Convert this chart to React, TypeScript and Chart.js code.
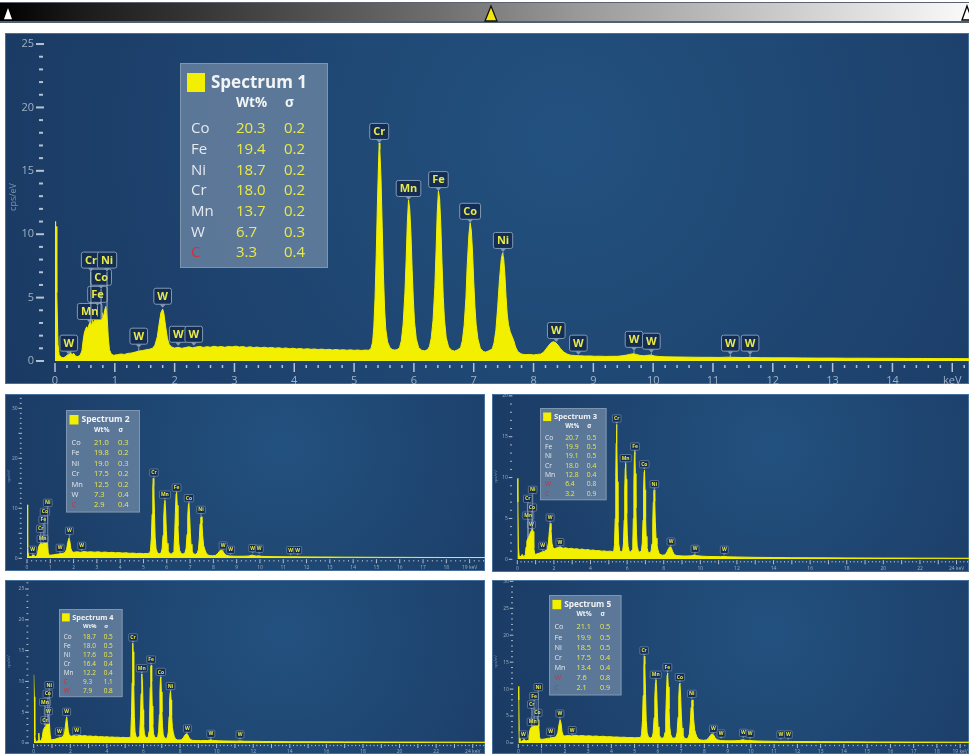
import { useEffect, useRef } from "react";
import { Chart, registerables } from "chart.js";
import type { Plugin } from "chart.js";

Chart.register(...registerables);

type Pt = [number, number];
type Marker = [string, number, number]; // element, energy (keV), pointer height (cps/eV)

// ---------- Spectrum 1 ----------
const spectrum1: Pt[] = [
  [0.0, 11.0], [0.01, 9.2], [0.02, 10.6], [0.03, 5.4], [0.05, 1.3], [0.07, 0.5], [0.1, 0.3], [0.14, 0.25],
  [0.18, 0.35], [0.21, 0.5], [0.24, 0.6], [0.26, 0.72], [0.28, 0.45], [0.31, 0.62], [0.34, 0.4], [0.38, 0.35],
  [0.42, 0.45], [0.45, 0.8], [0.47, 1.6], [0.49, 2.2], [0.51, 2.5], [0.53, 2.7], [0.55, 2.55], [0.57, 2.9],
  [0.59, 3.1], [0.61, 2.75], [0.63, 3.2], [0.65, 2.95], [0.67, 3.35], [0.69, 3.05], [0.71, 3.5], [0.73, 3.25],
  [0.75, 3.6], [0.77, 3.35], [0.79, 3.8], [0.81, 3.45], [0.83, 4.0], [0.85, 4.3], [0.87, 3.6], [0.89, 1.9],
  [0.91, 0.9], [0.94, 0.55], [0.98, 0.45], [1.04, 0.5], [1.1, 0.55], [1.16, 0.52], [1.22, 0.6], [1.28, 0.63],
  [1.34, 0.7], [1.4, 0.78], [1.46, 0.82], [1.52, 0.88], [1.58, 0.93], [1.63, 1.0], [1.67, 1.25], [1.71, 1.9],
  [1.74, 2.9], [1.77, 3.8], [1.8, 4.1], [1.82, 3.75], [1.85, 2.7], [1.88, 1.75], [1.91, 1.3], [1.95, 1.1],
  [2.0, 1.02], [2.06, 1.08], [2.12, 1.0], [2.18, 1.06], [2.24, 1.12], [2.3, 1.04], [2.36, 1.1], [2.42, 1.15],
  [2.48, 1.07], [2.54, 1.13], [2.6, 1.09], [2.66, 1.16], [2.72, 1.1], [2.78, 1.14], [2.84, 1.08], [2.9, 1.15],
  [2.96, 1.11], [3.02, 1.17], [3.08, 1.1], [3.14, 1.14], [3.2, 1.07], [3.26, 1.12], [3.32, 1.06], [3.38, 1.1],
  [3.44, 1.04], [3.5, 1.09], [3.56, 1.03], [3.62, 1.07], [3.68, 1.01], [3.74, 1.05], [3.8, 0.99], [3.86, 1.03],
  [3.92, 0.97], [3.98, 1.01], [4.04, 0.95], [4.1, 0.99], [4.16, 0.93], [4.22, 0.97], [4.28, 0.92], [4.34, 0.95],
  [4.4, 0.9], [4.46, 0.94], [4.52, 0.89], [4.58, 0.92], [4.64, 0.87], [4.7, 0.91], [4.76, 0.86], [4.82, 0.89],
  [4.88, 0.85], [4.94, 0.88], [5.0, 0.84], [5.06, 0.87], [5.12, 0.83], [5.18, 0.86], [5.24, 0.85], [5.28, 0.95],
  [5.31, 1.5], [5.33, 2.7], [5.35, 4.9], [5.37, 8.3], [5.39, 12.4], [5.41, 15.8], [5.42, 17.2], [5.43, 16.7],
  [5.45, 14.4], [5.47, 10.6], [5.49, 6.9], [5.51, 4.1], [5.53, 2.5], [5.56, 1.5], [5.6, 1.05], [5.64, 0.9],
  [5.68, 0.86], [5.72, 0.9], [5.76, 1.05], [5.79, 1.6], [5.82, 2.9], [5.85, 5.4], [5.87, 7.9], [5.89, 10.9],
  [5.91, 12.7], [5.93, 12.0], [5.95, 10.1], [5.97, 7.3], [5.99, 4.9], [6.01, 3.1], [6.04, 1.75], [6.08, 1.05],
  [6.13, 0.85], [6.18, 0.8], [6.23, 0.9], [6.26, 1.15], [6.29, 1.8], [6.32, 3.2], [6.35, 5.8], [6.37, 8.6],
  [6.39, 11.7], [6.41, 13.4], [6.43, 12.8], [6.45, 10.7], [6.47, 7.7], [6.49, 5.1], [6.51, 3.3], [6.54, 1.85],
  [6.58, 1.1], [6.63, 0.85], [6.68, 0.78], [6.73, 0.88], [6.78, 1.05], [6.81, 1.6], [6.84, 2.8], [6.87, 5.0],
  [6.89, 7.4], [6.92, 10.0], [6.94, 10.9], [6.96, 10.3], [6.98, 8.6], [7.0, 6.3], [7.02, 4.3], [7.04, 2.9],
  [7.07, 1.75], [7.11, 1.0], [7.16, 0.75], [7.2, 0.7], [7.25, 0.8], [7.31, 0.95], [7.34, 1.45], [7.37, 2.4],
  [7.4, 4.2], [7.43, 6.4], [7.46, 8.0], [7.48, 8.5], [7.5, 8.1], [7.52, 6.9], [7.54, 5.1], [7.56, 3.7],
  [7.58, 2.9], [7.61, 2.3], [7.64, 1.95], [7.67, 1.6], [7.7, 1.1], [7.74, 0.72], [7.8, 0.55], [7.86, 0.5],
  [7.93, 0.52], [8.0, 0.48], [8.07, 0.52], [8.12, 0.55], [8.17, 0.7], [8.21, 0.95], [8.25, 1.2], [8.29, 1.42],
  [8.33, 1.52], [8.37, 1.45], [8.41, 1.25], [8.45, 0.98], [8.5, 0.72], [8.56, 0.55], [8.62, 0.46], [8.7, 0.43],
  [8.78, 0.41], [8.86, 0.39], [8.94, 0.4], [9.02, 0.37], [9.1, 0.38], [9.2, 0.36], [9.3, 0.37], [9.4, 0.37],
  [9.48, 0.41], [9.56, 0.47], [9.62, 0.54], [9.67, 0.57], [9.72, 0.52], [9.78, 0.44], [9.85, 0.41], [9.91, 0.45],
  [9.96, 0.47], [10.02, 0.4], [10.1, 0.35], [10.2, 0.33], [10.35, 0.32], [10.5, 0.31], [10.65, 0.3], [10.8, 0.29],
  [10.95, 0.29], [11.1, 0.28], [11.25, 0.3], [11.35, 0.29], [11.5, 0.27], [11.65, 0.28], [11.8, 0.26], [12.0, 0.25],
  [12.25, 0.25], [12.5, 0.24], [12.75, 0.23], [13.0, 0.23], [13.25, 0.22], [13.5, 0.22], [13.75, 0.21], [14.0, 0.21],
  [14.25, 0.2], [14.5, 0.2], [14.75, 0.19], [15.0, 0.19], [15.3, 0.18],
];
const markers1: Marker[] = [
  ["W", 0.23, 0.5], ["Mn", 0.58, 3.0], ["Fe", 0.71, 4.35], ["Co", 0.77, 5.7], ["Cr", 0.6, 7.05], ["Ni", 0.87, 7.05],
  ["W", 1.4, 1.05], ["W", 1.8, 4.2], ["W", 2.06, 1.2], ["W", 2.32, 1.2],
  ["Cr", 5.42, 17.2], ["Mn", 5.91, 12.7], ["Fe", 6.41, 13.4], ["Co", 6.94, 10.9], ["Ni", 7.49, 8.6],
  ["W", 8.38, 1.5], ["W", 8.75, 0.5], ["W", 9.68, 0.8], ["W", 9.97, 0.65], ["W", 11.29, 0.5], ["W", 11.62, 0.5],
];
const elements1 = ["Co", "Fe", "Ni", "Cr", "Mn", "W", "C"];
const wt1 = [20.3, 19.4, 18.7, 18.0, 13.7, 6.7, 3.3];
const sigma1 = [0.2, 0.2, 0.2, 0.2, 0.2, 0.3, 0.4];
const flagged1 = ["C"];

// ---------- Spectrum 2 ----------
const spectrum2: Pt[] = [
  [0, 10.7], [0.02, 8.4], [0.04, 2.2], [0.07, 0.5], [0.12, 0.3], [0.18, 0.35], [0.22, 0.55], [0.26, 0.7],
  [0.3, 0.45], [0.36, 0.35], [0.42, 0.5], [0.46, 1.2], [0.5, 2.3], [0.54, 2.7], [0.58, 3.0], [0.62, 2.9],
  [0.66, 3.3], [0.7, 3.4], [0.74, 3.7], [0.78, 3.6], [0.82, 4.0], [0.85, 4.3], [0.88, 3.0], [0.91, 1.2],
  [0.95, 0.6], [1.05, 0.65], [1.15, 0.7], [1.25, 0.8], [1.35, 0.85], [1.45, 0.95], [1.55, 1.0], [1.63, 1.15],
  [1.7, 1.8], [1.75, 3.2], [1.8, 4.0], [1.84, 3.4], [1.88, 2.0], [1.93, 1.35], [2.0, 1.2], [2.15, 1.3],
  [2.3, 1.2], [2.45, 1.35], [2.6, 1.25], [2.75, 1.3], [2.9, 1.22], [3.05, 1.3], [3.2, 1.18], [3.35, 1.25],
  [3.5, 1.15], [3.65, 1.2], [3.8, 1.1], [3.95, 1.14], [4.1, 1.05], [4.25, 1.1], [4.4, 1.0], [4.55, 1.04],
  [4.7, 0.96], [4.85, 1.0], [5.0, 0.93], [5.15, 0.97], [5.26, 1.0], [5.3, 1.6], [5.34, 4.2], [5.37, 8.8],
  [5.4, 14.2], [5.42, 16.0], [5.44, 14.6], [5.47, 9.2], [5.5, 4.2], [5.54, 1.9], [5.6, 1.05], [5.68, 0.9],
  [5.76, 1.1], [5.8, 1.9], [5.84, 4.6], [5.87, 8.2], [5.9, 11.0], [5.92, 11.6], [5.95, 9.6], [5.98, 5.6],
  [6.01, 3.0], [6.05, 1.6], [6.12, 0.95], [6.2, 0.88], [6.27, 1.15], [6.31, 2.0], [6.34, 4.8], [6.37, 9.2],
  [6.4, 12.9], [6.42, 13.3], [6.45, 10.6], [6.48, 6.4], [6.51, 3.2], [6.55, 1.6], [6.62, 0.95], [6.7, 0.85],
  [6.78, 1.05], [6.83, 2.0], [6.87, 4.8], [6.9, 8.4], [6.93, 10.8], [6.95, 11.0], [6.98, 8.6], [7.01, 5.2],
  [7.04, 2.8], [7.08, 1.5], [7.15, 0.85], [7.23, 0.8], [7.31, 1.0], [7.36, 1.8], [7.4, 4.2], [7.43, 6.9],
  [7.46, 8.1], [7.48, 8.3], [7.51, 7.0], [7.54, 4.6], [7.58, 2.6], [7.63, 1.8], [7.68, 1.2], [7.75, 0.7],
  [7.85, 0.55], [7.95, 0.5], [8.08, 0.55], [8.18, 0.9], [8.25, 1.35], [8.32, 1.7], [8.39, 1.55], [8.46, 1.0],
  [8.55, 0.6], [8.7, 0.45], [8.9, 0.42], [9.1, 0.4], [9.3, 0.42], [9.5, 0.44], [9.6, 0.55], [9.67, 0.65],
  [9.74, 0.52], [9.85, 0.45], [9.95, 0.5], [10.05, 0.4], [10.3, 0.36], [10.6, 0.33], [10.9, 0.32], [11.2, 0.3],
  [11.5, 0.31], [11.8, 0.28], [12.2, 0.27], [12.6, 0.26], [13.0, 0.25], [13.5, 0.23], [14.0, 0.22], [14.5, 0.21],
  [15.0, 0.2], [15.5, 0.19], [16.0, 0.19], [16.5, 0.18], [17.0, 0.17], [17.5, 0.17], [18.0, 0.16], [18.5, 0.16],
  [19.0, 0.15], [19.7, 0.15],
];
const markers2: Marker[] = [
  ["W", 0.24, 0.66], ["Mn", 0.67, 2.86], ["Cr", 0.59, 4.86], ["Fe", 0.7, 6.66], ["Co", 0.77, 8.26], ["Ni", 0.89, 10.06],
  ["W", 1.42, 1.06], ["W", 1.82, 4.46], ["W", 2.35, 1.46],
  ["Cr", 5.45, 16.1], ["Mn", 5.92, 11.7], ["Fe", 6.42, 13.1], ["Co", 6.95, 11.0], ["Ni", 7.47, 8.66],
  ["W", 8.42, 1.52], ["W", 8.74, 0.66], ["W", 9.69, 1.0], ["W", 9.97, 0.86], ["W", 11.32, 0.6], ["W", 11.62, 0.6],
];
const elements2 = ["Co", "Fe", "Ni", "Cr", "Mn", "W", "C"];
const wt2 = [21.0, 19.8, 19.0, 17.5, 12.5, 7.3, 2.9];
const sigma2 = [0.3, 0.2, 0.3, 0.2, 0.2, 0.4, 0.4];
const flagged2 = ["C"];

// ---------- Spectrum 3 ----------
const spectrum3: Pt[] = [
  [0, 9.9], [0.03, 7.0], [0.06, 1.5], [0.1, 0.4], [0.16, 0.3], [0.22, 0.45], [0.27, 0.6], [0.32, 0.4],
  [0.38, 0.35], [0.44, 0.6], [0.48, 1.5], [0.52, 2.2], [0.57, 2.5], [0.62, 2.8], [0.67, 3.0], [0.72, 3.3],
  [0.77, 3.5], [0.82, 3.8], [0.86, 3.4], [0.9, 1.4], [0.95, 0.6], [1.05, 0.65], [1.2, 0.75], [1.35, 0.9],
  [1.5, 1.0], [1.62, 1.2], [1.7, 2.0], [1.75, 3.4], [1.8, 4.4], [1.84, 3.6], [1.89, 2.0], [1.95, 1.4],
  [2.05, 1.3], [2.2, 1.45], [2.35, 1.5], [2.5, 1.35], [2.65, 1.4], [2.8, 1.3], [2.95, 1.35], [3.1, 1.25],
  [3.25, 1.3], [3.4, 1.2], [3.55, 1.25], [3.7, 1.15], [3.85, 1.2], [4.0, 1.1], [4.15, 1.14], [4.3, 1.05],
  [4.45, 1.08], [4.6, 1.0], [4.75, 1.03], [4.9, 0.96], [5.05, 1.0], [5.2, 0.95], [5.27, 1.0], [5.31, 1.8],
  [5.35, 5.0], [5.38, 10.0], [5.4, 14.2], [5.42, 16.5], [5.44, 15.0], [5.47, 9.5], [5.5, 4.5], [5.54, 1.9],
  [5.6, 1.05], [5.68, 0.9], [5.76, 1.1], [5.8, 1.9], [5.84, 4.8], [5.87, 8.5], [5.9, 11.2], [5.92, 11.75],
  [5.95, 9.8], [5.98, 5.6], [6.01, 3.0], [6.05, 1.6], [6.12, 0.95], [6.2, 0.9], [6.27, 1.15], [6.31, 2.0],
  [6.34, 5.0], [6.37, 9.4], [6.4, 12.8], [6.42, 13.2], [6.45, 10.5], [6.48, 6.3], [6.51, 3.2], [6.55, 1.6],
  [6.62, 0.95], [6.7, 0.88], [6.78, 1.05], [6.83, 2.0], [6.87, 4.8], [6.9, 8.5], [6.93, 10.7], [6.95, 10.9],
  [6.98, 8.5], [7.01, 5.1], [7.04, 2.8], [7.08, 1.5], [7.15, 0.85], [7.23, 0.8], [7.31, 1.0], [7.36, 1.9],
  [7.4, 4.4], [7.43, 7.0], [7.46, 8.3], [7.48, 8.5], [7.51, 7.1], [7.54, 4.6], [7.58, 2.6], [7.63, 1.8],
  [7.68, 1.2], [7.75, 0.7], [7.85, 0.55], [7.95, 0.5], [8.08, 0.55], [8.18, 0.9], [8.26, 1.3], [8.34, 1.55],
  [8.41, 1.45], [8.48, 1.0], [8.57, 0.6], [8.7, 0.45], [8.9, 0.42], [9.1, 0.4], [9.3, 0.41], [9.5, 0.42],
  [9.62, 0.5], [9.7, 0.55], [9.78, 0.45], [9.9, 0.42], [10.1, 0.38], [10.4, 0.35], [10.8, 0.33], [11.1, 0.32],
  [11.3, 0.36], [11.5, 0.3], [12.0, 0.28], [12.5, 0.26], [13.0, 0.24], [14.0, 0.22], [15.0, 0.2], [16.0, 0.19],
  [17.0, 0.18], [18.0, 0.17], [19.0, 0.16], [20.0, 0.15], [21.0, 0.15], [22.0, 0.14], [23.0, 0.14], [24.0, 0.13],
  [24.7, 0.13],
];
const markers3: Marker[] = [
  ["W", 0.77, 3.59], ["Mn", 0.6, 4.72], ["Co", 0.8, 5.7], ["Cr", 0.57, 6.77], ["Ni", 0.84, 7.87],
  ["W", 1.39, 1.02], ["W", 1.79, 4.48], ["W", 2.33, 1.47],
  ["Cr", 5.43, 16.6], ["Mn", 5.92, 11.75], ["Fe", 6.43, 13.17], ["Co", 6.94, 11.0], ["Ni", 7.49, 8.57],
  ["W", 8.4, 1.54], ["W", 9.71, 0.65], ["W", 11.31, 0.53],
];
const elements3 = ["Co", "Fe", "Ni", "Cr", "Mn", "W", "C"];
const wt3 = [20.7, 19.9, 19.1, 18.0, 12.8, 6.4, 3.2];
const sigma3 = [0.5, 0.5, 0.5, 0.4, 0.4, 0.8, 0.9];
const flagged3 = ["W", "C"];

// ---------- Spectrum 4 ----------
const spectrum4: Pt[] = [
  [0, 11.1], [0.03, 7.5], [0.06, 1.2], [0.1, 0.3], [0.16, 0.25], [0.22, 0.3], [0.26, 0.5], [0.28, 1.6],
  [0.3, 0.6], [0.35, 0.35], [0.42, 0.4], [0.47, 1.0], [0.52, 2.0], [0.57, 2.4], [0.62, 2.6], [0.67, 2.9],
  [0.72, 3.1], [0.77, 3.3], [0.82, 3.5], [0.86, 3.2], [0.9, 1.3], [0.95, 0.5], [1.05, 0.55], [1.2, 0.65],
  [1.35, 0.8], [1.5, 0.9], [1.62, 1.1], [1.7, 1.9], [1.75, 3.2], [1.8, 4.2], [1.84, 3.4], [1.89, 1.9],
  [1.95, 1.25], [2.05, 1.1], [2.2, 1.2], [2.35, 1.1], [2.5, 1.25], [2.65, 1.15], [2.8, 1.2], [2.95, 1.1],
  [3.1, 1.15], [3.25, 1.05], [3.4, 1.12], [3.55, 1.0], [3.7, 1.05], [3.85, 0.98], [4.0, 1.02], [4.15, 0.95],
  [4.3, 0.98], [4.45, 0.92], [4.6, 0.95], [4.75, 0.88], [4.9, 0.92], [5.05, 0.86], [5.2, 0.9], [5.27, 0.95],
  [5.31, 1.7], [5.35, 4.8], [5.38, 9.8], [5.4, 14.0], [5.42, 16.2], [5.44, 14.8], [5.47, 9.3], [5.5, 4.3],
  [5.54, 1.8], [5.6, 1.0], [5.68, 0.85], [5.76, 1.05], [5.8, 1.8], [5.84, 4.5], [5.87, 8.0], [5.9, 10.7],
  [5.92, 11.2], [5.95, 9.3], [5.98, 5.4], [6.01, 2.9], [6.05, 1.5], [6.12, 0.9], [6.2, 0.85], [6.27, 1.1],
  [6.31, 1.9], [6.34, 4.7], [6.37, 9.0], [6.4, 12.2], [6.42, 12.6], [6.45, 10.0], [6.48, 6.0], [6.51, 3.0],
  [6.55, 1.5], [6.62, 0.9], [6.7, 0.85], [6.78, 1.0], [6.83, 1.9], [6.87, 4.6], [6.9, 8.3], [6.93, 10.5],
  [6.95, 10.7], [6.98, 8.3], [7.01, 5.0], [7.04, 2.7], [7.08, 1.4], [7.15, 0.8], [7.23, 0.75], [7.31, 0.95],
  [7.36, 1.8], [7.4, 4.3], [7.43, 6.9], [7.46, 8.2], [7.48, 8.4], [7.51, 7.0], [7.54, 4.5], [7.58, 2.5],
  [7.63, 1.7], [7.68, 1.1], [7.75, 0.65], [7.85, 0.5], [7.95, 0.48], [8.08, 0.52], [8.18, 0.85], [8.26, 1.25],
  [8.34, 1.5], [8.41, 1.4], [8.48, 0.95], [8.57, 0.55], [8.7, 0.42], [8.9, 0.4], [9.1, 0.38], [9.3, 0.4],
  [9.5, 0.4], [9.62, 0.48], [9.7, 0.52], [9.78, 0.42], [9.9, 0.4], [10.1, 0.36], [10.4, 0.33], [10.8, 0.31],
  [11.1, 0.3], [11.3, 0.34], [11.5, 0.28], [12.0, 0.27], [12.5, 0.25], [13.0, 0.23], [14.0, 0.21], [15.0, 0.2],
  [16.0, 0.19], [17.0, 0.18], [18.0, 0.17], [19.0, 0.16], [20.0, 0.15], [21.0, 0.15], [22.0, 0.14], [23.0, 0.14],
  [24.0, 0.13], [24.7, 0.13],
];
const markers4: Marker[] = [
  ["Cr", 0.62, 2.87], ["W", 0.8, 4.33], ["Mn", 0.62, 5.8], ["Co", 0.77, 7.14], ["Ni", 0.85, 8.55],
  ["W", 1.4, 1.02], ["W", 1.8, 4.22], ["W", 2.35, 1.14],
  ["Cr", 5.43, 16.3], ["Mn", 5.91, 11.3], ["Fe", 6.42, 12.7], ["Co", 6.95, 10.7], ["Ni", 7.48, 8.4],
  ["W", 8.4, 1.5], ["W", 9.68, 0.65], ["W", 11.28, 0.54],
];
const elements4 = ["Co", "Fe", "Ni", "Cr", "Mn", "C", "W"];
const wt4 = [18.7, 18.0, 17.6, 16.4, 12.2, 9.3, 7.9];
const sigma4 = [0.5, 0.5, 0.5, 0.4, 0.4, 1.1, 0.8];
const flagged4 = ["C", "W"];

// ---------- Spectrum 5 ----------
const spectrum5: Pt[] = [
  [0, 10.5], [0.02, 8.0], [0.04, 2.0], [0.07, 0.45], [0.12, 0.3], [0.18, 0.4], [0.22, 0.6], [0.26, 0.65],
  [0.3, 0.45], [0.36, 0.4], [0.42, 0.5], [0.46, 1.3], [0.5, 2.4], [0.54, 2.8], [0.58, 3.0], [0.62, 3.2],
  [0.66, 3.3], [0.7, 3.6], [0.74, 3.7], [0.78, 3.9], [0.82, 4.1], [0.85, 4.3], [0.88, 3.1], [0.91, 1.2],
  [0.95, 0.65], [1.05, 0.7], [1.15, 0.75], [1.25, 0.85], [1.35, 0.9], [1.45, 1.0], [1.55, 1.05], [1.63, 1.2],
  [1.7, 1.9], [1.75, 3.4], [1.8, 4.3], [1.84, 3.6], [1.88, 2.1], [1.93, 1.4], [2.0, 1.3], [2.15, 1.4],
  [2.3, 1.3], [2.45, 1.42], [2.6, 1.32], [2.75, 1.38], [2.9, 1.28], [3.05, 1.34], [3.2, 1.24], [3.35, 1.3],
  [3.5, 1.2], [3.65, 1.25], [3.8, 1.15], [3.95, 1.18], [4.1, 1.1], [4.25, 1.12], [4.4, 1.05], [4.55, 1.08],
  [4.7, 1.0], [4.85, 1.03], [5.0, 0.96], [5.15, 1.0], [5.26, 1.02], [5.3, 1.6], [5.34, 4.2], [5.37, 8.8],
  [5.4, 14.2], [5.42, 16.1], [5.44, 14.6], [5.47, 9.2], [5.5, 4.2], [5.54, 1.9], [5.6, 1.05], [5.68, 0.92],
  [5.76, 1.1], [5.8, 1.9], [5.84, 4.7], [5.87, 8.4], [5.9, 11.2], [5.92, 11.75], [5.95, 9.7], [5.98, 5.6],
  [6.01, 3.0], [6.05, 1.6], [6.12, 0.95], [6.2, 0.9], [6.27, 1.15], [6.31, 2.0], [6.34, 4.8], [6.37, 9.1],
  [6.4, 12.6], [6.42, 13.0], [6.45, 10.4], [6.48, 6.3], [6.51, 3.1], [6.55, 1.6], [6.62, 0.95], [6.7, 0.88],
  [6.78, 1.05], [6.83, 2.0], [6.87, 4.8], [6.9, 8.5], [6.93, 10.9], [6.95, 11.1], [6.98, 8.7], [7.01, 5.2],
  [7.04, 2.8], [7.08, 1.5], [7.15, 0.85], [7.23, 0.8], [7.31, 1.0], [7.36, 1.8], [7.4, 4.1], [7.43, 6.6],
  [7.46, 7.8], [7.48, 8.0], [7.51, 6.8], [7.54, 4.4], [7.58, 2.5], [7.63, 1.7], [7.68, 1.15], [7.75, 0.7],
  [7.85, 0.55], [7.95, 0.5], [8.08, 0.55], [8.18, 0.9], [8.25, 1.35], [8.32, 1.7], [8.39, 1.55], [8.46, 1.0],
  [8.55, 0.6], [8.7, 0.45], [8.9, 0.42], [9.1, 0.4], [9.3, 0.42], [9.5, 0.45], [9.6, 0.55], [9.67, 0.62],
  [9.74, 0.52], [9.85, 0.45], [9.95, 0.5], [10.05, 0.42], [10.3, 0.37], [10.6, 0.34], [10.9, 0.32], [11.2, 0.3],
  [11.5, 0.31], [11.8, 0.28], [12.2, 0.27], [12.6, 0.26], [13.0, 0.25], [13.5, 0.23], [14.0, 0.22], [14.5, 0.21],
  [15.0, 0.2], [15.5, 0.19], [16.0, 0.19], [16.5, 0.18], [17.0, 0.17], [17.5, 0.17], [18.0, 0.16], [18.5, 0.16],
  [19.0, 0.15], [19.4, 0.15],
];
const markers5: Marker[] = [
  ["W", 0.22, 0.61], ["Mn", 0.62, 2.97], ["Co", 0.82, 4.64], ["Cr", 0.58, 6.18], ["Fe", 0.68, 7.74], ["Ni", 0.86, 9.4],
  ["W", 1.39, 1.11], ["W", 1.79, 4.5], ["W", 2.32, 1.43],
  ["Cr", 5.41, 16.2], ["Mn", 5.91, 11.7], ["Fe", 6.41, 13.1], ["Co", 6.95, 11.26], ["Ni", 7.46, 8.16],
  ["W", 8.39, 1.67], ["W", 8.72, 0.8], ["W", 9.68, 0.93], ["W", 9.97, 0.74], ["W", 11.29, 0.61], ["W", 11.61, 0.61],
];
const elements5 = ["Co", "Fe", "Ni", "Cr", "Mn", "W", "C"];
const wt5 = [21.1, 19.9, 18.5, 17.5, 13.4, 7.6, 2.1];
const sigma5 = [0.5, 0.5, 0.5, 0.4, 0.4, 0.8, 0.9];
const flagged5 = ["W", "C"];

// ---------- drawing ----------
const FONT = "'Open Sans', 'Noto Sans', sans-serif";
const YELLOW = "#f3ef00";
const VALUE_YELLOW = "#e9e94a";
const TICK_COLOR = "#b4c2d2";
const LABEL_COLOR = "#9fb1c5";

interface Panel {
  title: string;
  spectrum: Pt[];
  markers: Marker[];
  elements: string[];
  wt: number[];
  sigma: number[];
  flagged: string[];
  xMax: number;
  yMax: number;
  xLabelStep: number;
  yLabelStep: number;
  lastLabel: string;
  left: number;
  top: number;
  width: number;
  height: number;
  plotLeft: number;
  plotBottom: number;
  s: number;
  boxAt: [number, number];
  boxScale: number;
}

const panels: Panel[] = [
  {
    title: "Spectrum 1", spectrum: spectrum1, markers: markers1, elements: elements1, wt: wt1, sigma: sigma1, flagged: flagged1,
    xMax: 15.28, yMax: 25.87, xLabelStep: 1, yLabelStep: 5, lastLabel: "keV",
    left: 5, top: 33, width: 964, height: 351, plotLeft: 50, plotBottom: 328, s: 1, boxAt: [175, 30], boxScale: 1,
  },
  {
    title: "Spectrum 2", spectrum: spectrum2, markers: markers2, elements: elements2, wt: wt2, sigma: sigma2, flagged: flagged2,
    xMax: 19.66, yMax: 32.86, xLabelStep: 1, yLabelStep: 10, lastLabel: "19 keV",
    left: 5, top: 394, width: 480, height: 177, plotLeft: 22, plotBottom: 164.3, s: 0.45, boxAt: [61, 16], boxScale: 0.5,
  },
  {
    title: "Spectrum 3", spectrum: spectrum3, markers: markers3, elements: elements3, wt: wt3, sigma: sigma3, flagged: flagged3,
    xMax: 24.68, yMax: 20.23, xLabelStep: 2, yLabelStep: 5, lastLabel: "24 keV",
    left: 492, top: 394, width: 477, height: 178, plotLeft: 25.3, plotBottom: 165.3, s: 0.45, boxAt: [48, 14], boxScale: 0.45,
  },
  {
    title: "Spectrum 4", spectrum: spectrum4, markers: markers4, elements: elements4, wt: wt4, sigma: sigma4, flagged: flagged4,
    xMax: 24.67, yMax: 26.46, xLabelStep: 2, yLabelStep: 5, lastLabel: "24 keV",
    left: 5, top: 580, width: 480, height: 174, plotLeft: 28.7, plotBottom: 163, s: 0.45, boxAt: [54, 29], boxScale: 0.43,
  },
  {
    title: "Spectrum 5", spectrum: spectrum5, markers: markers5, elements: elements5, wt: wt5, sigma: sigma5, flagged: flagged5,
    xMax: 19.38, yMax: 30.24, xLabelStep: 1, yLabelStep: 5, lastLabel: "19 keV",
    left: 492, top: 580, width: 477, height: 174, plotLeft: 26.3, plotBottom: 163, s: 0.45, boxAt: [57, 15], boxScale: 0.49,
  },
];

function valueAt(spec: Pt[], e: number): number {
  for (let i = 1; i < spec.length; i++) {
    const [x0, y0] = spec[i - 1];
    const [x1, y1] = spec[i];
    if (e >= x0 && e <= x1) return y0 + ((y1 - y0) * (e - x0)) / (x1 - x0 || 1);
  }
  return 0;
}

// Navy backdrop with a soft lighter centre, like the acquisition software.
const backdrop: Plugin = {
  id: "backdrop",
  beforeDraw(chart) {
    const { ctx, width, height } = chart;
    ctx.save();
    const cx = width * 0.58;
    const cy = height * 0.3;
    const g = ctx.createRadialGradient(cx, cy, 0, cx, cy, Math.max(width, height) * 0.62);
    g.addColorStop(0, "#23517f");
    g.addColorStop(1, "#1a3a63");
    ctx.fillStyle = g;
    ctx.fillRect(0, 0, width, height);
    ctx.strokeStyle = "#45709b";
    ctx.lineWidth = 1;
    ctx.strokeRect(0.5, 0.5, width - 1, height - 1);
    ctx.restore();
  },
};

function tickMarks(s: number): Plugin {
  return {
    id: "tickMarks",
    afterDraw(chart) {
      const { ctx, chartArea } = chart;
      const x = chart.scales.x;
      const y = chart.scales.y;
      const w = Math.max(1, 1.5 * s);
      ctx.save();
      ctx.fillStyle = TICK_COLOR;
      for (let i = 0; i * 0.2 <= x.max + 1e-9; i++) {
        const px = x.getPixelForValue(i * 0.2);
        const major = i % 5 === 0;
        if (major) ctx.fillRect(px - w / 2, chartArea.bottom + 2 * s, w, 9 * s);
        else ctx.fillRect(px - w / 2, chartArea.bottom + 4 * s, w, Math.max(1.2, 3 * s));
      }
      const h = Math.max(1, 2 * s);
      for (let v = 0; v <= y.max + 1e-9; v += 1) {
        const py = y.getPixelForValue(v);
        const major = v % 5 === 0;
        if (major) ctx.fillRect(chartArea.left - 19 * s, py - h / 2, 8 * s, h);
        else ctx.fillRect(chartArea.left - 16 * s, py - h / 2, Math.max(1.2, 4 * s), h);
      }
      ctx.restore();
    },
  };
}

function elementMarkers(p: Panel): Plugin {
  return {
    id: "elementMarkers",
    afterDatasetsDraw(chart) {
      const { ctx } = chart;
      const x = chart.scales.x;
      const y = chart.scales.y;
      const s = p.s;
      const h = 16 * s;
      const ptr = 3.5 * s;
      ctx.save();
      ctx.font = `bold ${11 * s}px ${FONT}`;
      ctx.textAlign = "center";
      ctx.textBaseline = "middle";
      for (const [sym, e, tip] of p.markers) {
        const px = x.getPixelForValue(e);
        const ty = y.getPixelForValue(tip);
        const level = y.getPixelForValue(valueAt(p.spectrum, e));
        if (level - ty > 2) {
          ctx.strokeStyle = "rgba(170,188,208,0.85)";
          ctx.lineWidth = Math.max(0.7, s);
          ctx.beginPath();
          ctx.moveTo(px, ty);
          ctx.lineTo(px, level);
          ctx.stroke();
        }
        const w = ctx.measureText(sym).width + 7 * s;
        const bx = px - w / 2;
        const by = ty - ptr - h;
        ctx.beginPath();
        ctx.roundRect(bx, by, w, h, 2 * s);
        ctx.fillStyle = "#132d53";
        ctx.fill();
        ctx.strokeStyle = "#8299b5";
        ctx.lineWidth = Math.max(0.6, s);
        ctx.stroke();
        ctx.beginPath();
        ctx.moveTo(px - 3 * s, by + h);
        ctx.lineTo(px + 3 * s, by + h);
        ctx.lineTo(px, ty);
        ctx.closePath();
        ctx.fillStyle = "#8299b5";
        ctx.fill();
        ctx.fillStyle = VALUE_YELLOW;
        ctx.fillText(sym, px, by + h / 2 + 0.5 * s);
      }
      ctx.restore();
    },
  };
}

function compositionBox(p: Panel): Plugin {
  return {
    id: "compositionBox",
    afterDraw(chart) {
      const { ctx } = chart;
      const k = p.boxScale;
      const [ox, oy] = p.boxAt;
      ctx.save();
      ctx.fillStyle = "rgba(108,132,162,0.8)";
      ctx.fillRect(ox, oy, 148 * k, 205 * k);
      ctx.strokeStyle = "rgba(150,170,195,0.6)";
      ctx.lineWidth = 1;
      ctx.strokeRect(ox + 0.5, oy + 0.5, 148 * k - 1, 205 * k - 1);
      ctx.fillStyle = YELLOW;
      ctx.fillRect(ox + 7 * k, oy + 10 * k, 18 * k, 19 * k);
      ctx.textBaseline = "middle";
      ctx.textAlign = "left";
      ctx.fillStyle = "#f2f4f6";
      ctx.font = `bold ${17 * k}px ${FONT}`;
      ctx.fillText(p.title, ox + 31 * k, oy + 20 * k);
      ctx.font = `bold ${13.5 * k}px ${FONT}`;
      ctx.fillText("Wt%", ox + 56 * k, oy + 40 * k);
      ctx.fillText("σ", ox + 105 * k, oy + 40 * k);
      ctx.font = `${15 * k}px ${FONT}`;
      p.elements.forEach((el, i) => {
        const ry = oy + (66 + i * 20.7) * k;
        ctx.fillStyle = p.flagged.includes(el) ? "#d2303c" : "#e4e9ef";
        ctx.fillText(el, ox + 11 * k, ry);
        ctx.fillStyle = VALUE_YELLOW;
        ctx.fillText(p.wt[i].toFixed(1), ox + 56 * k, ry);
        ctx.fillText(p.sigma[i].toFixed(1), ox + 104 * k, ry);
      });
      ctx.restore();
    },
  };
}

// Keep the plot area exactly where the layout puts it: no extra room for label overhang.
function fixBox(sc: any) {
  sc.paddingTop = 0;
  sc.paddingBottom = 0;
  sc.paddingLeft = 0;
  sc.paddingRight = 0;
}

function SpectrumPanel({ p }: { p: Panel }) {
  const ref = useRef<HTMLCanvasElement>(null);
  useEffect(() => {
    const canvas = ref.current;
    if (!canvas) return;
    const s = p.s;
    const chart = new Chart(canvas, {
      type: "line",
      data: {
        datasets: [
          {
            data: p.spectrum.map(([x, y]) => ({ x, y })),
            borderColor: YELLOW,
            backgroundColor: YELLOW,
            borderWidth: 1,
            fill: "origin",
            pointRadius: 0,
            tension: 0,
          },
        ],
      },
      options: {
        animation: false,
        responsive: false,
        maintainAspectRatio: false,
        events: [],
        layout: { padding: 0, autoPadding: false },
        plugins: { legend: { display: false }, tooltip: { enabled: false } },
        scales: {
          x: {
            type: "linear",
            min: 0,
            max: p.xMax,
            grid: { display: false, drawTicks: false },
            border: { display: false },
            ticks: {
              stepSize: p.xLabelStep,
              includeBounds: false,
              autoSkip: false,
              maxRotation: 0,
              padding: 13 * s,
              color: LABEL_COLOR,
              font: { family: FONT, size: 11 * s },
              callback: (v) => {
                const n = Number(v);
                const last = Math.floor(p.xMax / p.xLabelStep) * p.xLabelStep;
                return Math.abs(n - last) < 1e-6 ? p.lastLabel : String(n);
              },
            },
            afterFit: (sc) => {
              sc.height = p.height - p.plotBottom;
              fixBox(sc);
            },
          },
          y: {
            min: 0,
            max: p.yMax,
            grid: { display: false, drawTicks: false },
            border: { display: false },
            ticks: {
              stepSize: p.yLabelStep,
              includeBounds: false,
              padding: 21 * s,
              color: LABEL_COLOR,
              font: { family: FONT, size: 11 * s },
            },
            title: {
              display: true,
              text: "cps/eV",
              color: "#7c93ad",
              font: { family: FONT, size: 9 * s },
              padding: { top: 3 * s, bottom: 0 },
            },
            afterFit: (sc) => {
              sc.width = p.plotLeft;
              fixBox(sc);
            },
          },
        },
      },
      plugins: [backdrop, tickMarks(s), elementMarkers(p), compositionBox(p)],
    });
    return () => chart.destroy();
  }, [p]);
  return (
    <div style={{ position: "absolute", left: p.left, top: p.top, width: p.width, height: p.height }}>
      <canvas ref={ref} width={p.width} height={p.height} style={{ display: "block" }} />
    </div>
  );
}

function ContrastBar() {
  return (
    <div style={{ position: "absolute", left: 0, top: 0, width: 969, height: 24 }}>
      <div
        style={{
          position: "absolute",
          left: 0,
          top: 2,
          width: 969,
          height: 18,
          background: "linear-gradient(to right, #000 0%, #1a1a1a 8%, #6e6e6e 45%, #9a9a9a 60%, #e6e6e6 92%, #fafafa 100%)",
          borderTop: "1px solid #5a6470",
          borderBottom: "2px solid #4f6070",
        }}
      />
      <svg width={969} height={24} style={{ position: "absolute", left: 0, top: 0 }}>
        <polygon points="3,20 8,6 13,20" fill="#ffffff" stroke="#000" strokeWidth={1.3} />
        <polygon points="485,21 491,6 497,21" fill="#f3e80c" stroke="#111" strokeWidth={1.3} />
        <polygon points="962,20 967,6 972,20" fill="#ffffff" stroke="#000" strokeWidth={1.3} />
      </svg>
    </div>
  );
}

export default function App() {
  return (
    <div style={{ position: "absolute", left: 0, top: 0, width: 969, height: 754, background: "#fff", overflow: "hidden" }}>
      <ContrastBar />
      {panels.map((p) => (
        <SpectrumPanel key={p.title} p={p} />
      ))}
    </div>
  );
}
